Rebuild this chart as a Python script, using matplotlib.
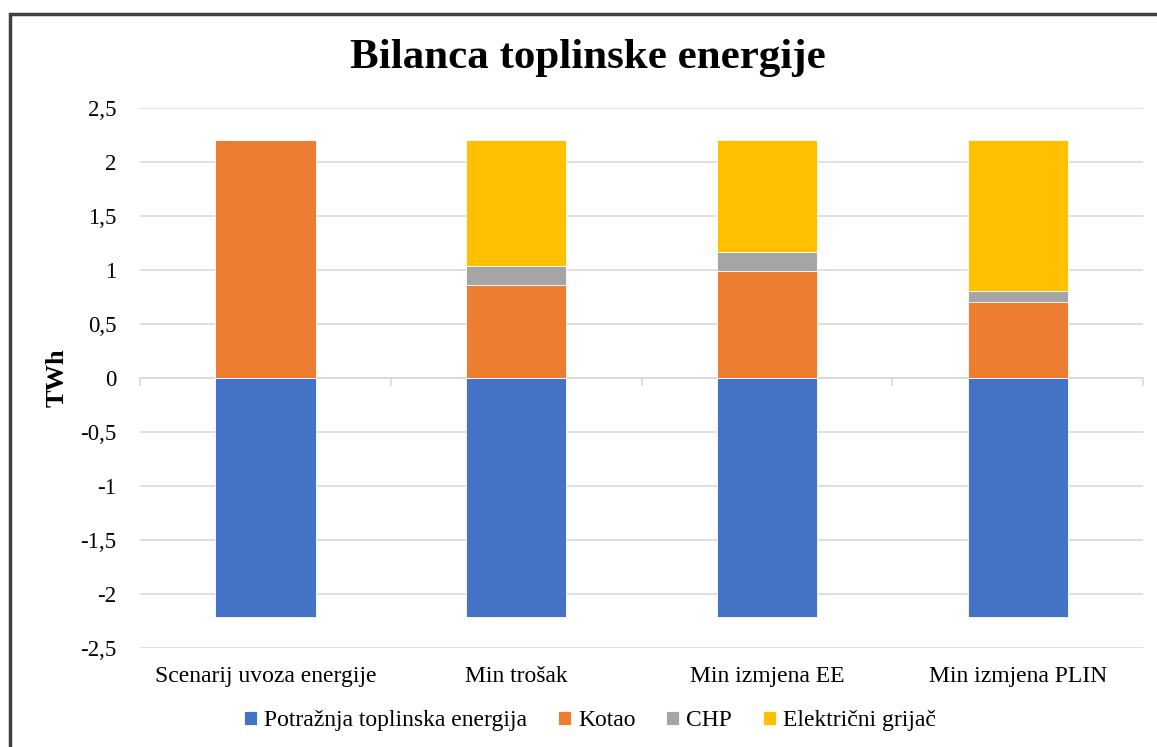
import matplotlib.pyplot as plt
from matplotlib.patches import Rectangle
import numpy as np

plt.rcParams['font.family'] = ['Liberation Serif', 'DejaVu Serif']

# scenariji i bilanca (TWh)
scenarios = ["Scenarij uvoza energije", "Min trošak", "Min izmjena EE", "Min izmjena PLIN"]
potraznja = [-2.21, -2.21, -2.21, -2.21]
kotao = [2.21, 0.86, 0.99, 0.71]
chp = [0.0, 0.18, 0.18, 0.10]
el_grijac = [0.0, 1.17, 1.04, 1.40]

yticks = [2.5, 2, 1.5, 1, 0.5, 0, -0.5, -1, -1.5, -2, -2.5]
ytick_labels = ["2,5", "2", "1,5", "1", "0,5", "0", "-0,5", "-1", "-1,5", "-2", "-2,5"]

fig = plt.figure(figsize=(11.57, 7.47), dpi=100)
ax = fig.add_axes([0.121, 0.1325, 0.867, 0.7225])

x = np.arange(len(scenarios))
w = 0.4
ec = dict(edgecolor='white', linewidth=0.6)
ax.bar(x, potraznja, w, color='#4472c4', label='Potražnja toplinska energija', zorder=3, **ec)
ax.bar(x, kotao, w, color='#ed7d31', label='Kotao', zorder=3, **ec)
b2 = np.array(kotao)
ax.bar(x, chp, w, bottom=b2, color='#a5a5a5', label='CHP', zorder=3, **ec)
b3 = b2 + np.array(chp)
ax.bar(x, el_grijac, w, bottom=b3, color='#ffc000', label='Električni grijač', zorder=3, **ec)

ax.set_ylim(-2.5, 2.5)
ax.set_xlim(-0.5, len(scenarios) - 0.5)
ax.set_yticks(yticks)
ax.set_yticklabels(ytick_labels, fontsize=16.5)
ax.yaxis.grid(True, color='#d9d9d9', linewidth=1.2, zorder=0)
ax.tick_params(axis='y', length=0, pad=17)

ax.set_xticks(x)
ax.set_xticklabels(scenarios, fontsize=17)
ax.tick_params(axis='x', length=0, pad=13)

# os x na nuli s oznakama kategorija
ax.axhline(0, color='#d9d9d9', linewidth=1.2, zorder=2)
for b in np.arange(-0.5, len(scenarios), 1.0):
    ax.plot([b, b], [0, -0.06], color='#d9d9d9', linewidth=1.2, zorder=2, clip_on=False)

for s in ax.spines.values():
    s.set_visible(False)

ax.set_ylabel('TWh', fontsize=19, fontweight='bold', labelpad=8)
fig.text(0.508, 0.922, 'Bilanca toplinske energije', ha='center', va='center',
         fontsize=31, fontweight='bold')

fig.legend(loc='center', bbox_to_anchor=(0.51, 0.035), ncol=4, frameon=False,
           fontsize=17, handlelength=0.55, handleheight=0.55, handletextpad=0.3,
           columnspacing=1.3)

fig.patches.append(Rectangle((10 / 1157, -0.1), 1.2, 0.1 + (747 - 14) / 747,
                             transform=fig.transFigure, fill=False,
                             edgecolor='#404040', linewidth=2.5))

fig.savefig('out.png', dpi=100)
